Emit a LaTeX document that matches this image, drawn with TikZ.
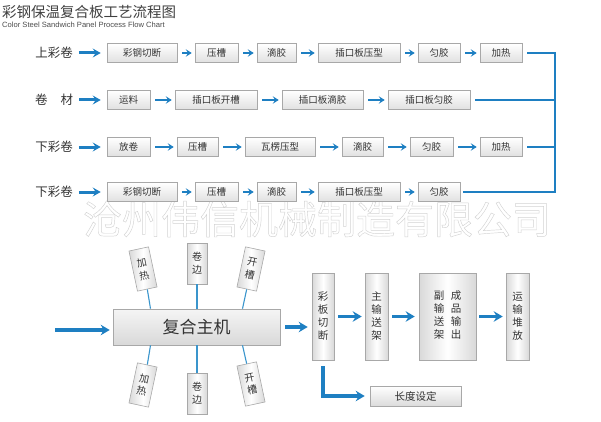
\documentclass[tikz,border=0pt]{standalone}
\usepackage{fontspec}
\setmainfont{Noto Sans CJK SC}
\newfontfamily\latinfont{Liberation Sans}
\usetikzlibrary{arrows.meta}
\definecolor{fblue}{HTML}{1E7FC2}
\definecolor{lblue}{HTML}{3A95CC}
\definecolor{txt}{HTML}{333333}
\definecolor{bord}{HTML}{A8A8A8}
\tikzset{
  box/.style={draw=bord, line width=0.6pt, top color=white, bottom color=gray!24,
    minimum height=19pt, inner sep=0pt, font=\fontsize{9.5}{11}\selectfont, text=txt},
  vbox/.style={draw=bord, line width=0.6pt, left color=gray!30, right color=gray!30,
    middle color=white, inner sep=0pt, font=\fontsize{10.5}{13}\selectfont, text=txt, align=center},
  sbox/.style={vbox, minimum width=20pt, minimum height=41pt, font=\fontsize{10}{13}\selectfont},
  lab/.style={font=\fontsize{12.5}{14}\selectfont, text=txt, inner sep=0pt},
  arr/.style={draw=fblue, line width=2.5pt, -{Stealth[length=6pt,width=7.5pt,inset=2.5pt]},
    shorten <=5pt, shorten >=3pt},
  larr/.style={draw=fblue, line width=3pt, -{Stealth[length=8pt,width=9pt,inset=3pt]},
    shorten <=6pt, shorten >=6pt},
  bline/.style={draw=fblue, line width=2pt},
  conn/.style={draw=lblue, line width=1.1pt},
  bigarr/.style={draw=fblue, line width=3.6pt, -{Stealth[length=9pt,width=10.5pt,inset=3pt]}},
}
\begin{document}
\begin{tikzpicture}[x=1pt,y=-1pt]
\useasboundingbox (0,0) rectangle (601,422);
% watermark
\node[text=gray!35, font=\fontsize{39}{39}\selectfont, inner sep=0pt] (wm) at (317,219)
  {\special{pdf:literal direct 1 Tr 0.45 w}沧州伟信机械制造有限公司\special{pdf:literal direct 0 Tr}};
% title
\node[anchor=west, inner sep=0pt, text=black!75, font=\fontsize{14.5}{15}\selectfont] (title) at (2,12) {彩钢保温复合板工艺流程图};
\node[anchor=west, inner sep=0pt, text=black!70, font=\latinfont\fontsize{7.6}{8}\selectfont] (sub) at (2,24.5) {Color Steel Sandwich Panel Process Flow Chart};

% row 1
\node[lab] (l1) at (54,53) {上彩卷};
\node[box, minimum width=70pt] (a1) at (142,53) {彩钢切断};
\node[box, minimum width=43pt] (a2) at (216.5,53) {压槽};
\node[box, minimum width=39pt] (a3) at (276.5,53) {滴胶};
\node[box, minimum width=82pt] (a4) at (359,53) {插口板压型};
\node[box, minimum width=42pt] (a5) at (439,53) {匀胶};
\node[box, minimum width=42pt] (a6) at (501,53) {加热};
% row 2
\node[lab] (l2) at (54,100) {卷\hspace{13pt}材};
\node[box, minimum width=43pt] (b1) at (128.5,100) {运料};
\node[box, minimum width=82pt] (b2) at (216,100) {插口板开槽};
\node[box, minimum width=81pt] (b3) at (322.5,100) {插口板滴胶};
\node[box, minimum width=82pt] (b4) at (429,100) {插口板匀胶};
% row 3
\node[lab] (l3) at (54,147) {下彩卷};
\node[box, minimum width=43pt] (c1) at (128.5,147) {放卷};
\node[box, minimum width=41pt] (c2) at (197.5,147) {压槽};
\node[box, minimum width=70pt] (c3) at (280,147) {瓦楞压型};
\node[box, minimum width=41pt] (c4) at (362.5,147) {滴胶};
\node[box, minimum width=43pt] (c5) at (431.5,147) {匀胶};
\node[box, minimum width=42pt] (c6) at (501,147) {加热};
% row 4
\node[lab] (l4) at (54,192) {下彩卷};
\node[box, minimum width=70pt] (d1) at (142,192) {彩钢切断};
\node[box, minimum width=43pt] (d2) at (216.5,192) {压槽};
\node[box, minimum width=39pt] (d3) at (276.5,192) {滴胶};
\node[box, minimum width=82pt] (d4) at (359,192) {插口板压型};
\node[box, minimum width=42pt] (d5) at (439,192) {匀胶};

\draw[larr] (l1) -- (a1);
\draw[larr] (l2) -- (b1);
\draw[larr] (l3) -- (c1);
\draw[larr] (l4) -- (d1);
\foreach \p/\q in {a1/a2,a2/a3,a3/a4,a4/a5,a5/a6,b1/b2,b2/b3,b3/b4,c1/c2,c2/c3,c3/c4,c4/c5,c5/c6,d1/d2,d2/d3,d3/d4,d4/d5}
  \draw[arr] (\p) -- (\q);

\coordinate (jt) at (555,53);
\coordinate (jb) at (555,192);
\draw[bline, shorten <=5pt] (a6.east) -- (a6.east -| jt);
\draw[bline, shorten <=5pt] (b4.east) -- (b4.east -| jt);
\draw[bline, shorten <=5pt] (c6.east) -- (c6.east -| jt);
\draw[bline, shorten <=3pt] (d5.east) -- (d5.east -| jt);
\draw[bline, line cap=rect] (jt) -- (jb);

% bottom section
\node[draw=bord, line width=0.6pt, top color=gray!8, bottom color=gray!30, minimum width=167pt,
  minimum height=36pt, inner sep=0pt, text=black!80, font=\fontsize{17}{18}\selectfont] (m) at (196.5,327) {复合主机};
\node[sbox, rotate=12] (tl) at (143,269) {加\\热};
\node[sbox] (tm) at (197,263.5) {卷\\边};
\node[sbox, rotate=-12] (tr) at (251,269) {开\\槽};
\node[sbox, rotate=-12] (bl) at (143,385) {加\\热};
\node[sbox] (bm) at (197,393.5) {卷\\边};
\node[sbox, rotate=12] (br) at (251,384) {开\\槽};
\draw[conn] (tl.south) -- ([xshift=-46pt]m.north);
\draw[conn] (tm.south) -- (tm.south |- m.north);
\draw[conn] (tr.south) -- ([xshift=46pt]m.north);
\draw[conn] ([xshift=-46pt]m.south) -- (bl.north);
\draw[conn] (bm.north |- m.south) -- (bm.north);
\draw[conn] ([xshift=46pt]m.south) -- (br.north);

\node[vbox, minimum width=22pt, minimum height=87pt] (cut) at (323,316.5) {彩\\板\\切\\断};
\node[vbox, minimum width=23pt, minimum height=87pt] (mc) at (376.5,316.5) {主\\输\\送\\架};
\node[vbox, minimum width=57pt, minimum height=87pt] (sc) at (447.5,316.5)
  {\begin{tabular}{@{}c@{\hspace{6.5pt}}c@{}}副&成\\输&品\\送&输\\架&出\end{tabular}};
\node[vbox, minimum width=23pt, minimum height=87pt] (tp) at (517.5,316.5) {运\\输\\堆\\放};
\node[draw=bord, line width=0.6pt, top color=white, bottom color=gray!28, minimum width=91pt,
  minimum height=20pt, inner sep=0pt, text=txt, font=\fontsize{10.5}{12}\selectfont] (len) at (415.5,396) {长度设定};

\coordinate (in) at (55,330);
\draw[bigarr, shorten >=3pt] (in) -- (in -| m.west);
\draw[bigarr, shorten <=5pt, shorten >=4pt] (m.east) -- (m.east -| cut.west);
\draw[bigarr, shorten <=4pt, shorten >=3pt] (cut) -- (mc);
\draw[bigarr, shorten <=4pt, shorten >=4pt] (mc) -- (sc);
\draw[bigarr, shorten <=3pt, shorten >=3pt] (sc) -- (tp);
\draw[bigarr, shorten <=6pt, shorten >=5pt] (cut.south) |- (len.west);
\end{tikzpicture}
\end{document}
